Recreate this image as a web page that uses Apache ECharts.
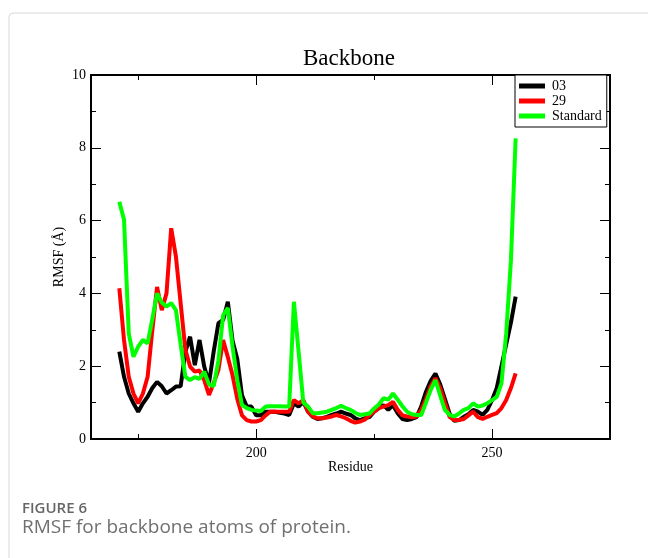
<!DOCTYPE html>
<html>
<head>
<meta charset="utf-8">
<script src="https://cdn.jsdelivr.net/npm/echarts@6/dist/echarts.min.js"></script>
<style>
html,body{margin:0;padding:0;background:#fff;}
#chart{width:648px;height:558px;}
</style>
</head>
<body>
<div id="chart"></div>
<script>
const residues = [171,172,173,174,175,176,177,178,179,180,181,182,183,184,185,186,187,188,189,190,
191,192,193,194,195,196,197,198,199,200,201,202,203,204,205,206,207,208,209,210,
211,212,213,214,215,216,217,218,219,220,221,222,223,224,225,226,227,228,229,230,
231,232,233,234,235,236,237,238,239,240,241,242,243,244,245,246,247,248,249,250,
251,252,253,254,255];

const rmsf03 = [2.40,1.71,1.25,0.98,0.75,0.98,1.16,1.40,1.57,1.45,
1.25,1.34,1.44,1.45,2.40,2.81,2.03,2.72,1.99,1.53,
2.40,3.18,3.27,3.77,2.70,2.20,1.20,0.90,0.89,0.65,
0.65,0.75,0.75,0.75,0.72,0.70,0.66,0.98,0.89,1.02,
0.75,0.61,0.55,0.57,0.61,0.66,0.70,0.75,0.70,0.66,
0.57,0.52,0.57,0.60,0.75,0.85,0.93,0.80,0.93,0.71,
0.55,0.52,0.55,0.60,0.90,1.30,1.60,1.80,1.50,1.10,
0.70,0.50,0.52,0.61,0.68,0.80,0.75,0.66,0.80,1.07,
1.40,2.00,2.60,3.20,3.91];

const rmsf29 = [4.14,2.72,1.71,1.25,0.98,1.25,1.71,2.99,4.18,3.54,
4.00,5.79,5.01,3.73,2.45,1.99,1.85,1.88,1.62,1.21,
1.53,1.90,2.72,2.25,1.75,1.10,0.65,0.52,0.48,0.48,
0.52,0.65,0.75,0.75,0.75,0.75,0.75,1.07,0.98,1.07,
0.75,0.62,0.57,0.57,0.59,0.62,0.66,0.62,0.57,0.50,
0.45,0.48,0.53,0.65,0.75,0.85,0.89,0.93,1.02,0.80,
0.65,0.62,0.60,0.62,0.80,1.10,1.45,1.67,1.40,1.00,
0.61,0.52,0.52,0.55,0.65,0.75,0.60,0.55,0.61,0.66,
0.71,0.85,1.07,1.40,1.80];

const rmsfStandard = [6.52,6.02,2.90,2.26,2.54,2.72,2.63,3.30,4.00,3.75,
3.64,3.73,3.54,2.60,1.71,1.62,1.70,1.65,1.85,1.50,
1.45,2.15,3.40,3.60,2.54,1.62,0.93,0.85,0.80,0.78,
0.77,0.89,0.90,0.90,0.90,0.89,0.89,3.77,2.40,1.00,
0.89,0.71,0.71,0.73,0.75,0.80,0.85,0.91,0.85,0.80,
0.72,0.66,0.68,0.70,0.84,0.95,1.12,1.08,1.25,1.08,
0.90,0.75,0.68,0.66,0.66,1.00,1.35,1.62,1.20,0.80,
0.66,0.62,0.70,0.80,0.85,0.98,0.89,0.92,0.98,1.07,
1.16,1.53,2.90,4.90,8.26];

const xMajorTicks = [200, 250];
const xMinorTicks = [175, 225, 275];
const seriesNames = ['03', '29', 'Standard'];
const seriesColors = ['#000000', '#ff0000', '#00ff00'];

const serif = '"Liberation Serif", "DejaVu Serif", serif';
const pair = (vals) => residues.map((r, i) => [r, vals[i]]);

const chart = echarts.init(document.getElementById('chart'), null, {renderer: 'canvas'});

const baseX = {
  type: 'value', min: 165, max: 275, gridIndex: 0,
  splitLine: {show: false},
  axisLine: {show: false}
};

chart.setOption({
  animation: false,
  backgroundColor: '#ffffff',
  title: {
    text: 'Backbone',
    left: 344, top: 42, textAlign: 'center',
    textStyle: {fontFamily: serif, fontSize: 23, fontWeight: 'normal', color: '#000'}
  },
  legend: {
    data: seriesNames,
    orient: 'vertical',
    left: 515, top: 75,
    padding: [4, 5, 4, 4],
    itemGap: 1,
    itemWidth: 26, itemHeight: 5,
    icon: 'rect',
    borderColor: '#000', borderWidth: 1,
    backgroundColor: '#fff',
    textStyle: {fontFamily: serif, fontSize: 14, color: '#000', padding: [0, 0, 0, 2]}
  },
  grid: {left: 91, right: 38, top: 75, bottom: 119, containLabel: false},
  xAxis: [
    Object.assign({}, baseX, {
      position: 'bottom',
      name: 'Residue', nameLocation: 'middle', nameGap: 21, nameMoveOverlap: false,
      nameTextStyle: {fontFamily: serif, fontSize: 14, color: '#000'},
      axisLine: {show: true, lineStyle: {color: '#000', width: 2}},
      axisTick: {show: true, inside: true, length: 10, customValues: xMajorTicks, lineStyle: {color: '#000', width: 1}},
      axisLabel: {show: true, customValues: xMajorTicks, margin: 7, fontFamily: serif, fontSize: 14, color: '#000'}
    }),
    Object.assign({}, baseX, {
      position: 'bottom',
      axisTick: {show: true, inside: true, length: 5, customValues: xMinorTicks, lineStyle: {color: '#000', width: 1}},
      axisLabel: {show: false}
    }),
    Object.assign({}, baseX, {
      position: 'top',
      axisLine: {show: true, lineStyle: {color: '#000', width: 2}},
      axisTick: {show: true, inside: true, length: 10, customValues: xMajorTicks, lineStyle: {color: '#000', width: 1}},
      axisLabel: {show: false}
    }),
    Object.assign({}, baseX, {
      position: 'top',
      axisTick: {show: true, inside: true, length: 5, customValues: xMinorTicks, lineStyle: {color: '#000', width: 1}},
      axisLabel: {show: false}
    })
  ],
  yAxis: [
    {
      type: 'value', min: 0, max: 10, interval: 2, position: 'left',
      name: 'RMSF (Å)', nameLocation: 'middle', nameGap: 25, nameMoveOverlap: false,
      nameTextStyle: {fontFamily: serif, fontSize: 14, color: '#000'},
      splitLine: {show: false},
      axisLine: {show: true, lineStyle: {color: '#000', width: 2}},
      axisTick: {show: true, inside: true, length: 10, lineStyle: {color: '#000', width: 1}},
      minorTick: {show: true, splitNumber: 2, length: 5, lineStyle: {color: '#000', width: 1}},
      axisLabel: {margin: 5, fontFamily: serif, fontSize: 14, color: '#000'}
    },
    {
      type: 'value', min: 0, max: 10, interval: 2, position: 'right',
      splitLine: {show: false},
      axisLine: {show: true, lineStyle: {color: '#000', width: 2}},
      axisTick: {show: true, inside: true, length: 10, lineStyle: {color: '#000', width: 1}},
      minorTick: {show: true, splitNumber: 2, length: 5, lineStyle: {color: '#000', width: 1}},
      axisLabel: {show: false}
    }
  ],
  series: [rmsf03, rmsf29, rmsfStandard].map((vals, i) => ({
    name: seriesNames[i],
    type: 'line',
    xAxisIndex: 0, yAxisIndex: 0,
    data: pair(vals),
    showSymbol: false,
    symbol: 'none',
    color: seriesColors[i],
    lineStyle: {color: seriesColors[i], width: 4},
    z: 2 + i
  })),
  graphic: [
    {
      type: 'rect', silent: true, z: -1,
      shape: {x: 9, y: 13, width: 700, height: 600, r: 4},
      style: {fill: 'none', stroke: '#d9d9d9', lineWidth: 1}
    },
    {
      type: 'text', left: 22, top: 501,
      style: {text: 'FIGURE 6', fill: '#666', font: '600 15px "Open Sans", "Noto Sans", sans-serif'}
    },
    {
      type: 'text', left: 22, top: 518,
      style: {text: 'RMSF for backbone atoms of protein.', fill: '#707070', font: '19px "Open Sans", "Noto Sans", sans-serif'}
    }
  ]
});
</script>
</body>
</html>
